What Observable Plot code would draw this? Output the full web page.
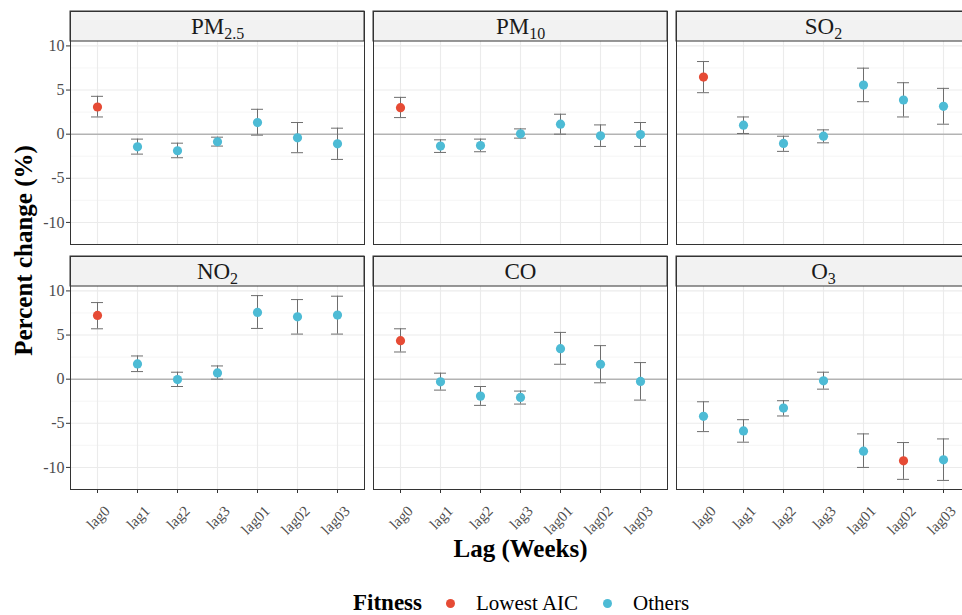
<!DOCTYPE html>
<html><head><meta charset="utf-8">
<script src="https://cdn.jsdelivr.net/npm/d3@7"></script>
<script src="https://cdn.jsdelivr.net/npm/@observablehq/plot@0.6"></script>
<style>
body{margin:0;overflow:hidden;background:#fff;font-family:"Liberation Serif",serif;}
#wrap{position:relative;width:962px;height:615px;overflow:hidden;background:#fff;}
#chart{width:975px;}
#chart svg{max-width:none !important;}
#legend{position:absolute;top:589px;left:353px;display:flex;align-items:center;height:28px;white-space:nowrap;color:#000;font-family:"Liberation Serif",serif;}
</style></head><body><div id="wrap"><div id="chart"></div><div id="legend"></div></div>
<script>
const lags = ["lag0","lag1","lag2","lag3","lag01","lag02","lag03"];
const pollutants = ["PM2.5","PM10","SO2","NO2","CO","O3"];
const stripMain = ["PM","PM","SO","NO","CO","O"];
const stripSub = ["2.5","10","2","2","","3"];
const lowestAIC = ["lag0","lag0","lag0","lag0","lag0","lag02"];
const fitnessLevels = ["Lowest AIC","Others"];
const fitnessColors = ["#E64B35","#4DBBD5"];
const yTicks = [-10,-5,0,5,10];
const yMinor = [-7.5,-2.5,2.5,7.5];
const xLabel = "Lag (Weeks)";
const yLabel = "Percent change (%)";
const legendTitle = "Fitness";

const est_PM25 = [3.08,-1.43,-1.88,-0.86,1.32,-0.41,-1.09];
const lo_PM25  = [1.95,-2.26,-2.67,-1.35,-0.11,-2.10,-2.86];
const hi_PM25  = [4.29,-0.56,-1.02,-0.34,2.82,1.32,0.68];

const est_PM10 = [3.00,-1.35,-1.28,0.04,1.13,-0.19,-0.04];
const lo_PM10  = [1.88,-2.07,-1.99,-0.45,0.00,-1.39,-1.39];
const hi_PM10  = [4.17,-0.64,-0.56,0.60,2.26,1.05,1.32];

const est_SO2 = [6.47,1.02,-1.05,-0.23,5.56,3.87,3.16];
const lo_SO2  = [4.70,0.08,-1.95,-0.98,3.68,1.95,1.13];
const hi_SO2  = [8.23,1.95,-0.23,0.49,7.48,5.83,5.19];

const est_NO2 = [7.22,1.73,-0.04,0.71,7.56,7.07,7.26];
const lo_NO2  = [5.71,0.86,-0.83,0.00,5.75,5.11,5.11];
const hi_NO2  = [8.68,2.63,0.79,1.50,9.47,9.02,9.40];

const est_CO = [4.36,-0.30,-1.92,-2.07,3.46,1.69,-0.26];
const lo_CO  = [3.08,-1.24,-2.97,-2.82,1.69,-0.41,-2.37];
const hi_CO  = [5.71,0.68,-0.83,-1.35,5.30,3.80,1.88];

const est_O3 = [-4.21,-5.86,-3.27,-0.19,-8.16,-9.25,-9.14];
const lo_O3  = [-5.94,-7.14,-4.17,-1.13,-10.00,-11.35,-11.47];
const hi_O3  = [-2.56,-4.59,-2.44,0.79,-6.20,-7.18,-6.77];

const estimates = [est_PM25, est_PM10, est_SO2, est_NO2, est_CO, est_O3];
const lowers = [lo_PM25, lo_PM10, lo_SO2, lo_NO2, lo_CO, lo_O3];
const uppers = [hi_PM25, hi_PM10, hi_SO2, hi_NO2, hi_CO, hi_O3];

const panels = pollutants.map((p, i) => ({pollutant: p, col: i % 3, row: Math.floor(i / 3), main: stripMain[i], sub: stripSub[i]}));
const rows = [];
pollutants.forEach((p, i) => {
  lags.forEach((lag, j) => {
    rows.push({
      pollutant: p, col: i % 3, row: Math.floor(i / 3), lag,
      est: estimates[i][j], lo: lowers[i][j], hi: uppers[i][j],
      fitness: lowestAIC[i] === lag ? fitnessLevels[0] : fitnessLevels[1]
    });
  });
});

const yBottom = -12.5, yTop = 10.5, yStrip = 13.9;
const font = "Liberation Serif, serif";
const fx = "col", fy = "row";

const chart = Plot.plot({
  width: 975, height: 565,
  marginTop: 11, marginLeft: 69, marginRight: 4, marginBottom: 76,
  style: {fontFamily: font, background: "#fff"},
  fx: {axis: null, paddingInner: 0.031, paddingOuter: 0},
  fy: {axis: null, paddingInner: 0.049, paddingOuter: 0},
  x: {type: "band", domain: lags, paddingInner: 0.707, paddingOuter: 0.4535, label: null},
  y: {domain: [yBottom, yStrip], label: null},
  color: {domain: fitnessLevels, range: fitnessColors},
  marks: [
    Plot.ruleY(yMinor, {stroke: "#f0f0f0", strokeWidth: 0.7}),
    Plot.ruleY(yTicks.filter(d => d !== 0), {stroke: "#ebebeb", strokeWidth: 1.1}),
    Plot.ruleX(lags, {x: d => d, y1: yBottom, y2: yTop, stroke: "#ebebeb", strokeWidth: 1.1}),
    Plot.ruleY([0], {stroke: "#b3b3b3", strokeWidth: 1.6}),
    Plot.ruleX(rows, {fx, fy, x: "lag", y1: "lo", y2: "hi", stroke: "#6e6e6e", strokeWidth: 1}),
    Plot.tickY(rows, {fx, fy, x: "lag", y: "lo", stroke: "#6e6e6e", strokeWidth: 1}),
    Plot.tickY(rows, {fx, fy, x: "lag", y: "hi", stroke: "#6e6e6e", strokeWidth: 1}),
    Plot.dot(rows, {fx, fy, x: "lag", y: "est", fill: "fitness", r: 4.6}),
    Plot.rect(panels, {fx, fy, y1: yTop, y2: yStrip, fill: "#f2f2f2", stroke: "#333", strokeWidth: 1}),
    Plot.text(panels, {fx, fy, y: (yTop + yStrip) / 2, text: d => d.main + "|" + d.sub, fontSize: 23, fill: "#1a1a1a", className: "strip-label"}),
    Plot.frame({stroke: "#333", strokeWidth: 1}),
    Plot.axisY({ticks: yTicks, tickSize: 4, tickPadding: 2, fontSize: 16, tickFormat: d => String(d), fill: "#4d4d4d", stroke: "#333", label: null}),
    Plot.axisX({tickSize: 4, fill: "none", stroke: "#333", label: null}),
    Plot.axisX({tickSize: 0, tickRotate: -45, tickPadding: 19, dx: 10, fontSize: 15, fill: "#4d4d4d", label: null}),
    Plot.text([{col: 1, row: 1, t: xLabel}], {fx, fy, text: "t", frameAnchor: "bottom", lineAnchor: "middle", dy: 59, fontSize: 25, fontWeight: "bold", fill: "#000"}),
    Plot.text([{col: 0, row: 0, t: yLabel}], {fx, fy, text: "t", frameAnchor: "bottom-left", textAnchor: "middle", lineAnchor: "middle", rotate: -90, dx: -47, dy: 6, fontSize: 25, fontWeight: "bold", fill: "#000"})
  ]
});
document.getElementById("chart").appendChild(chart);

d3.select(chart).selectAll(".strip-label text").each(function() {
  const parts = this.textContent.split("|");
  const el = d3.select(this);
  el.text(parts[0]);
  if (parts[1]) el.append("tspan").attr("dy", "0.3em").attr("font-size", "16px").text(parts[1]);
});

const legend = document.getElementById("legend");
let html = `<span style="font-weight:bold;font-size:23px;margin-right:24px">${legendTitle}</span>`;
fitnessLevels.forEach((f, i) => {
  html += `<span style="display:inline-block;width:9px;height:9px;border-radius:50%;background:${fitnessColors[i]};margin-right:21px"></span>`;
  html += `<span style="font-size:21px;margin-right:${i === 0 ? 25 : 0}px">${f}</span>`;
});
legend.innerHTML = html;
</script>
</body></html>
